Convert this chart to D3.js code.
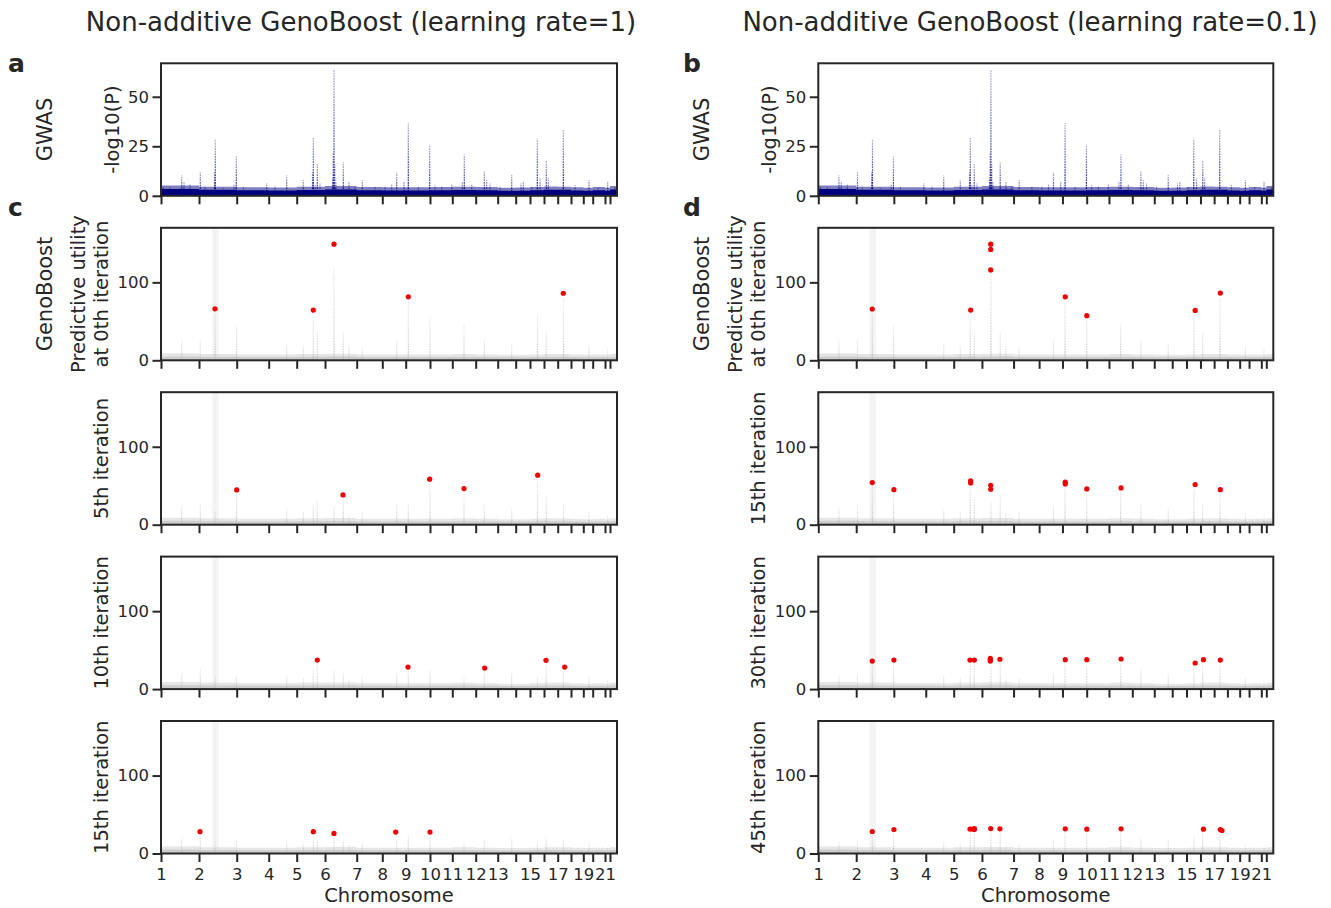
<!DOCTYPE html>
<html>
<head>
<meta charset="utf-8">
<script src="https://cdn.jsdelivr.net/npm/d3@7"></script>
<style>
  body { margin: 0; background: #fff; }
  svg text { font-family: "DejaVu Sans", sans-serif; fill: #262626; }
</style>
</head>
<body>
<div id="chart"></div>
<script>
/// SVG size
var svgWidth = 1331;
var svgHeight = 908;

/// Chromosomes and their length on the x axis (variant index units)
var chromosomes = [1, 2, 3, 4, 5, 6, 7, 8, 9, 10, 11, 12, 13, 14, 15, 16, 17, 18, 19, 20, 21, 22];
var chromSize = [38, 37.7, 32, 28, 28.3, 31.7, 25.6, 23.4, 24.3, 22.3, 23.4, 22, 18, 14.3, 14, 13.7, 13.3, 12.3, 9.4, 12.3, 5, 7];
var chromTickLabels = ["1", "2", "3", "4", "5", "6", "7", "8", "9", "10", "11", "12", "13", "", "15", "", "17", "", "19", "", "21", ""];

var titles = ["Non-additive GenoBoost (learning rate=1)", "Non-additive GenoBoost (learning rate=0.1)"];

/// GWAS -log10(P): dense floor, sparse fringe above it (per chromosome) and visible peaks [position, value]
var gwasFloor = [3.4, 3.0, 2.8, 2.7, 2.9, 3.2, 2.8, 2.7, 2.7, 2.8, 2.9, 2.8, 2.6, 2.6, 2.8, 3.0, 3.0, 2.7, 2.6, 2.8, 2.6, 3.2];
var gwasFringe = [5.2, 4.6, 4.3, 4.2, 4.6, 5.0, 4.4, 4.3, 4.3, 4.4, 4.6, 4.4, 4.1, 4.2, 4.4, 4.7, 4.6, 4.3, 4.1, 4.4, 4.1, 4.9];
var gwasPeaks = [
  [2.3, 4.7], [9, 4.5], [20.7, 10.3], [23, 7.3], [29, 6], [39.3, 12], [44, 5], [53.5, 12], [54.3, 28.6],
  [62.3, 4], [73, 6], [75.3, 19.9], [82.3, 4.7], [105.7, 6.4], [114, 5], [125.7, 10.3], [142.3, 8],
  [151.5, 12], [152.3, 29.6], [154, 5.5], [156.3, 16], [159, 6.4], [171.5, 9], [172.2, 22], [173, 63.6],
  [173.8, 16], [175, 7], [182.3, 17], [188, 7], [194, 4.7], [201.3, 8], [214, 4.7], [224, 5], [230.7, 6],
  [235.7, 11.8], [243, 7.5], [247.3, 36.7], [257.3, 4.7], [268.7, 25.8], [274, 5.5], [280.7, 5], [290.7, 6],
  [301.3, 7.3], [303.3, 21], [310.7, 6], [323.3, 12.6], [325.7, 8], [329, 6.4], [339, 4.7], [350.7, 10.6],
  [360, 6.4], [362.3, 7.3], [370.7, 4.7], [376.3, 28.8], [379, 9], [385.3, 17.7], [387.3, 9], [402.3, 33.3],
  [414, 5.5], [428, 8], [437.3, 4.7], [446.7, 7.3], [454, 4.7]
];

/// Predictive utility background (grey): floor, fringe, peak positions, peak heights per panel
var utilFloor = [5, 4.5, 4.2, 4.2, 4.5, 4.8, 4.2, 4.2, 4.2, 4.2, 4.5, 4.2, 4, 4, 4.2, 4.5, 4.5, 4.2, 4, 4.2, 4, 4.5];
var utilFringe = [9, 8, 7.5, 7.5, 8, 8.5, 7.5, 7.5, 7.5, 7.5, 8, 7.5, 7, 7, 7.5, 8, 8, 7.5, 7, 7.5, 7, 8];
var utilPeakPos = [20.7, 39.3, 54.2, 75.5, 125.7, 142.3, 152.3, 156.3, 173, 182.3, 188, 201.3, 235.7, 247.3, 269, 303, 323.3, 350.7, 376.5, 385.2, 402.5, 428, 446.7];
var utilIter0 = [26, 26, 60, 45, 22, 19, 55, 37, 118, 37, 20, 16, 26, 77, 55, 47, 28, 22, 60, 38, 80, 20, 15];
var utilLr1Iter5 = [25, 27, 18, 40, 21, 18, 25, 33, 24, 35, 12, 16, 27, 28, 52, 42, 27, 21, 58, 38, 27, 16, 12];
var utilLr1Iter10 = [22, 26, 19, 18, 18, 15, 24, 33, 24, 20, 12, 16, 22, 25, 24, 15, 24, 22, 16, 33, 25, 16, 12];
var utilLr1Iter15 = [20, 22, 17, 16, 16, 14, 24, 20, 22, 16, 12, 14, 18, 24, 24, 14, 18, 20, 15, 20, 18, 14, 10];
var utilLr01Iter15 = [22, 25, 50, 40, 20, 18, 50, 35, 29, 37, 15, 16, 25, 50, 42, 44, 27, 21, 48, 27, 42, 15, 12];
var utilLr01Iter30 = [18, 20, 34, 33, 18, 15, 34, 35, 30, 35, 12, 14, 22, 34, 34, 34, 25, 20, 30, 34, 34, 14, 10];
var utilLr01Iter45 = [16, 18, 26, 28, 15, 14, 28, 29, 28, 29, 10, 12, 18, 29, 28, 28, 20, 18, 22, 28, 27, 12, 10];

/// shaded region in the GenoBoost panels
var highlightRegion = [51.3, 57.9];

/// selected SNPs (red) [position, predictive utility]
var lr1Iter0 = [[54, 66], [152.3, 64.5], [173, 149], [247.3, 81.5], [402.3, 86]];
var lr1Iter5 = [[75.7, 44.6], [182, 38.2], [268.7, 58.4], [303, 46.4], [376.7, 63.5]];
var lr1Iter10 = [[156.3, 37.3], [247, 28.3], [323.7, 27], [385, 36.9], [403.7, 28.3]];
var lr1Iter15 = [[39, 28], [152.3, 28], [173, 25.7], [234.7, 27.5], [269, 27.5]];
var lr01Iter0 = [[54.1, 65.8], [152.7, 64.5], [172.8, 149], [172.8, 142.3], [172.8, 116], [247.5, 81.5], [269.1, 57.2], [377.7, 64], [402.9, 86.3]];
var lr01Iter15 = [[54.1, 54], [75.8, 45], [152.7, 56.2], [152.7, 53.6], [172.8, 50.6], [172.8, 45.5], [247.5, 54.5], [247.5, 52.3], [269.1, 45.9], [303.4, 47.2], [377.7, 51.5], [402.9, 45]];
var lr01Iter30 = [[54.1, 36], [75.8, 37.3], [152, 37.3], [156.4, 37.3], [172.4, 39.5], [172.4, 38], [172.4, 36], [182, 38.2], [247.5, 37.7], [269.1, 37.7], [303.4, 38.6], [377.7, 33.5], [386, 37.7], [402.9, 37.3]];
var lr01Iter45 = [[54.1, 28.2], [75.8, 30.8], [152, 31.3], [154.7, 31.3], [156.4, 31.8], [156.4, 30.8], [172.8, 32], [182, 31.6], [247.5, 31.6], [269.1, 31.2], [303.4, 31.6], [386, 31.2], [402.9, 30.8], [404.6, 29.5]];

var gwasTicks = [0, 25, 50];
var utilTicks = [0, 100];

/// Layout
var columns = [
  { title: titles[0], titleX: 361, left: 161, width: 456, letters: ["a", "c"], letterX: 8,
    rows: [
      { label: ["Predictive utility", "at 0th iteration"], grey: utilIter0, red: lr1Iter0 },
      { label: ["5th iteration"], grey: utilLr1Iter5, red: lr1Iter5 },
      { label: ["10th iteration"], grey: utilLr1Iter10, red: lr1Iter10 },
      { label: ["15th iteration"], grey: utilLr1Iter15, red: lr1Iter15 }
    ] },
  { title: titles[1], titleX: 1030, left: 818.3, width: 455, letters: ["b", "d"], letterX: 683,
    rows: [
      { label: ["Predictive utility", "at 0th iteration"], grey: utilIter0, red: lr01Iter0 },
      { label: ["15th iteration"], grey: utilLr01Iter15, red: lr01Iter15 },
      { label: ["30th iteration"], grey: utilLr01Iter30, red: lr01Iter30 },
      { label: ["45th iteration"], grey: utilLr01Iter45, red: lr01Iter45 }
    ] }
];
var rowTop = [63.3, 227.8, 392.2, 556.6, 721];
var panelHeight = 132.5;
var dark = "#262626";

var chromStart = chromSize.map(function(d, i) { return d3.sum(chromSize.slice(0, i)); });
var genomeLength = d3.sum(chromSize);

var svg = d3.select("#chart")
  .append("svg")
  .attr("width", svgWidth)
  .attr("height", svgHeight);

/// gradients so the peaks fade out towards the top, like sparse points
var defs = svg.append("defs");
function addGradient(id, color, bottomOp, midOp, topOp) {
  var grad = defs.append("linearGradient")
    .attr("id", id)
    .attr("x1", 0).attr("y1", 1).attr("x2", 0).attr("y2", 0);
  grad.append("stop").attr("offset", "0%").attr("stop-color", color).attr("stop-opacity", bottomOp);
  grad.append("stop").attr("offset", "30%").attr("stop-color", color).attr("stop-opacity", midOp);
  grad.append("stop").attr("offset", "100%").attr("stop-color", color).attr("stop-opacity", topOp);
}
addGradient("gwasGrad", "#00007f", 1, 0.75, 0.3);
addGradient("utilGrad", "#bdbdbd", 1, 0.6, 0.25);

/// dotted mask so the peaks look like stacked points
var dotPattern = defs.append("pattern")
  .attr("id", "dots")
  .attr("patternUnits", "userSpaceOnUse")
  .attr("width", 4).attr("height", 2.6);
dotPattern.append("rect").attr("width", 4).attr("height", 1.8).attr("fill", "white");
defs.append("mask")
  .attr("id", "dotMask")
  .attr("maskUnits", "userSpaceOnUse")
  .attr("x", 0).attr("y", 0).attr("width", svgWidth).attr("height", svgHeight)
  .append("rect")
  .attr("width", svgWidth).attr("height", svgHeight)
  .attr("fill", "url(#dots)");

function styleAxis(axisG) {
  axisG.select(".domain").remove();
  axisG.attr("font-family", null).attr("font-size", null);
  axisG.selectAll(".tick line").attr("stroke", dark).attr("stroke-width", 2);
  axisG.selectAll(".tick text").attr("font-size", "16.5px").attr("fill", dark);
}

function drawPanel(col, top, yMax, yTicks, floor, fringe, peaks, color, gradId, red, showHighlight, showXLabels) {
  var g = svg.append("g");

  var x = d3.scaleLinear().domain([0, genomeLength]).range([col.left, col.left + col.width]);
  var y = d3.scaleLinear().domain([0, yMax]).range([top + panelHeight, top]);

  if (showHighlight) {
    g.append("rect")
      .attr("x", x(highlightRegion[0]))
      .attr("y", top)
      .attr("width", x(highlightRegion[1]) - x(highlightRegion[0]))
      .attr("height", panelHeight)
      .attr("fill", "#f4f4f4");
  }

  /// noise floor as step areas per chromosome
  var area = d3.area()
    .x(function(d) { return x(d[0]); })
    .y0(y(0))
    .y1(function(d) { return y(d[1]); })
    .curve(d3.curveStepAfter);
  function stepPts(vals) {
    var pts = chromStart.map(function(s, i) { return [s, vals[i]]; });
    pts.push([genomeLength, vals[vals.length - 1]]);
    return pts;
  }
  g.append("path").datum(stepPts(fringe)).attr("d", area).attr("fill", color).attr("opacity", 0.5);
  g.append("path").datum(stepPts(floor)).attr("d", area).attr("fill", color);

  /// peaks
  g.append("g")
    .attr("mask", "url(#dotMask)")
    .selectAll("rect")
    .data(peaks)
    .enter()
    .append("rect")
    .attr("x", function(d) { return x(d[0]) - 0.6; })
    .attr("y", function(d) { return y(d[1]); })
    .attr("width", 1.2)
    .attr("height", function(d) { return y(0) - y(d[1]); })
    .attr("fill", "url(#" + gradId + ")");

  if (red) {
    g.selectAll(".snp")
      .data(red)
      .enter()
      .append("circle")
      .attr("cx", function(d) { return x(d[0]); })
      .attr("cy", function(d) { return y(d[1]); })
      .attr("r", 2.6)
      .attr("fill", "#f00000");
  }

  var xAxis = d3.axisBottom(x)
    .tickValues(chromStart)
    .tickSize(8.5)
    .tickPadding(6)
    .tickFormat(function(d, i) { return showXLabels ? chromTickLabels[i] : ""; });
  g.append("g")
    .attr("transform", `translate(0, ${top + panelHeight})`)
    .call(xAxis)
    .call(styleAxis);

  var yAxis = d3.axisLeft(y).tickValues(yTicks).tickSize(8.5).tickPadding(3.5);
  g.append("g")
    .attr("transform", `translate(${col.left}, 0)`)
    .call(yAxis)
    .call(styleAxis);

  /// frame
  g.append("rect")
    .attr("x", col.left)
    .attr("y", top)
    .attr("width", col.width)
    .attr("height", panelHeight)
    .attr("fill", "none")
    .attr("stroke", dark)
    .attr("stroke-width", 2);
}

function vLabel(x, y, text, size) {
  svg.append("text")
    .attr("transform", `translate(${x}, ${y}) rotate(-90)`)
    .attr("text-anchor", "middle")
    .attr("font-size", size)
    .text(text);
}

columns.forEach(function(col) {
  var dx = col.left - 161;

  svg.append("text")
    .attr("x", col.titleX)
    .attr("y", 31)
    .attr("text-anchor", "middle")
    .attr("font-size", "26px")
    .text(col.title);

  svg.append("text").attr("x", col.letterX).attr("y", 72)
    .attr("font-size", "25px").attr("font-weight", "bold").text(col.letters[0]);
  svg.append("text").attr("x", col.letterX).attr("y", 216)
    .attr("font-size", "25px").attr("font-weight", "bold").text(col.letters[1]);

  /// GWAS panel
  drawPanel(col, rowTop[0], 66.9, gwasTicks, gwasFloor, gwasFringe, gwasPeaks, "#00007f", "gwasGrad", null, false, false);
  vLabel(52 + dx, rowTop[0] + panelHeight / 2, "GWAS", "21px");
  vLabel(119 + dx, rowTop[0] + panelHeight / 2, "-log10(P)", "19.5px");

  /// GenoBoost panels
  col.rows.forEach(function(row, r) {
    var top = rowTop[r + 1];
    var greyPeaks = utilPeakPos.map(function(p, i) { return [p, row.grey[i]]; });
    drawPanel(col, top, 170, utilTicks, utilFloor, utilFringe, greyPeaks, "#cdcdcd", "utilGrad", row.red, true, r === 3);
    var cy = top + panelHeight / 2;
    if (row.label.length === 2) {
      vLabel(85 + dx, cy, row.label[0], "19.5px");
      vLabel(108 + dx, cy, row.label[1], "19.5px");
    } else {
      vLabel(108 + dx, cy, row.label[0], "19.5px");
    }
  });
  vLabel(52 + dx, rowTop[1] + panelHeight / 2, "GenoBoost", "21px");

  svg.append("text")
    .attr("x", col.left + col.width / 2)
    .attr("y", 902)
    .attr("text-anchor", "middle")
    .attr("font-size", "19.5px")
    .text("Chromosome");
});
</script>
</body>
</html>
